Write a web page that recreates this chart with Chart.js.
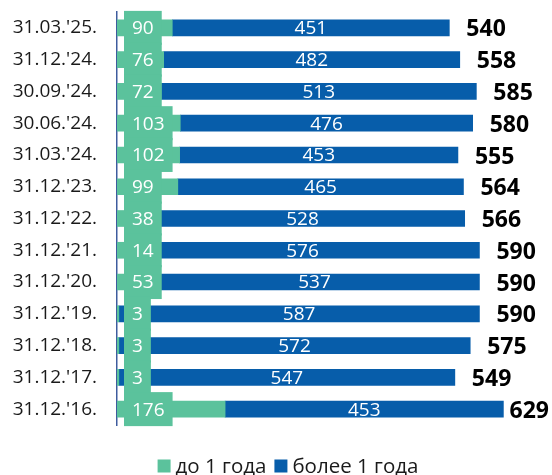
<!DOCTYPE html>
<html>
<head>
<meta charset="utf-8">
<script src="https://cdn.jsdelivr.net/npm/chart.js@4.4.0/dist/chart.umd.min.js"></script>
<style>
  html, body { margin: 0; padding: 0; background: #fff; }
  #wrap { width: 552px; height: 475px; }
</style>
</head>
<body>
<div id="wrap"><canvas id="myChart"></canvas></div>
<script>
// data, top row first
const dates = ["31.03.'25.", "31.12.'24.", "30.09.'24.", "30.06.'24.", "31.03.'24.", "31.12.'23.",
  "31.12.'22.", "31.12.'21.", "31.12.'20.", "31.12.'19.", "31.12.'18.", "31.12.'17.", "31.12.'16."];
const upToYear = [90, 76, 72, 103, 102, 99, 38, 14, 53, 3, 3, 3, 176];
const overYear = [451, 482, 513, 476, 453, 465, 528, 576, 537, 587, 572, 547, 453];
const totals = [540, 558, 585, 580, 555, 564, 566, 590, 590, 590, 575, 549, 629];
const seriesNames = ["до 1 года", "более 1 года"];

const GREEN = "#5BC29C";
const BLUE = "#075DAA";
const FONT = "'Open Sans', 'Liberation Sans', sans-serif";

// value labels: green boxed labels at the base, white centred labels, bold totals
const barLabels = {
  id: "barLabels",
  afterDatasetsDraw(chart) {
    const ctx = chart.ctx;
    const green = chart.getDatasetMeta(0).data;
    const blue = chart.getDatasetMeta(1).data;
    ctx.save();
    ctx.textBaseline = "middle";

    ctx.font = "19px " + FONT;
    ctx.textAlign = "center";
    ctx.fillStyle = "#fff";
    blue.forEach((bar, i) => {
      const p = bar.getProps(["x", "y", "base"], true);
      ctx.fillText(String(overYear[i]), (p.x + p.base) / 2, p.y + 1);
    });

    ctx.textAlign = "left";
    green.forEach((bar, i) => {
      const p = bar.getProps(["x", "y", "base"], true);
      const txt = String(upToYear[i]);
      const w = ctx.measureText(txt).width + 16;
      const x0 = p.base + 7;
      ctx.fillStyle = GREEN;
      ctx.fillRect(x0, p.y - 17, w, 34);
      ctx.fillStyle = "#fff";
      ctx.fillText(txt, x0 + 8, p.y + 1);
    });

    ctx.font = "bold 23px " + FONT;
    ctx.fillStyle = "#000";
    blue.forEach((bar, i) => {
      const p = bar.getProps(["x", "y"], true);
      const txt = String(totals[i]);
      const w = ctx.measureText(txt).width;
      const x = Math.min(p.x + 17, chart.width - 3 - w);
      ctx.fillText(txt, x, p.y + 2);
    });
    ctx.restore();
  },
  afterDraw(chart) {
    // legend at the bottom
    const ctx = chart.ctx;
    ctx.save();
    ctx.font = "20.5px " + FONT;
    ctx.textBaseline = "middle";
    ctx.textAlign = "left";
    const items = chart.data.datasets.map(ds => ({ label: ds.label, color: ds.backgroundColor }));
    const box = 13, gapText = 5, gapItem = 8;
    let total = 0;
    items.forEach((it, i) => {
      it.w = ctx.measureText(it.label).width;
      total += box + gapText + it.w + (i ? gapItem : 0);
    });
    let x = 288 - total / 2;
    const y = 466;
    items.forEach(it => {
      ctx.fillStyle = it.color;
      ctx.fillRect(x, y - box / 2, box, box);
      ctx.fillStyle = "#1a1a1a";
      ctx.fillText(it.label, x + box + gapText, y + 1);
      x += box + gapText + it.w + gapItem;
    });
    ctx.restore();
  }
};

const ctx = document.getElementById("myChart");
new Chart(ctx, {
  type: "bar",
  data: {
    labels: dates,
    datasets: [
      { label: seriesNames[0], data: upToYear, backgroundColor: GREEN, barThickness: 16 },
      { label: seriesNames[1], data: overYear, backgroundColor: BLUE, barThickness: 16 },
    ],
  },
  options: {
    indexAxis: "y",
    responsive: true,
    maintainAspectRatio: false,
    animation: false,
    layout: { padding: { top: 12, bottom: 50, left: 0, right: 5 } },
    scales: {
      x: { stacked: true, display: false, min: 0, max: 700 },
      y: {
        stacked: true,
        grid: { display: false, drawTicks: false },
        border: { display: true, color: "#3E5C9E", width: 1.5 },
        ticks: { color: "#1a1a1a", padding: 20, font: { family: FONT, size: 19 } },
        afterFit: (scale) => {
          scale.width = 117;
          scale.paddingTop = 0;
          scale.paddingBottom = 0;
        },
      },
    },
    plugins: {
      legend: { display: false },
      tooltip: { enabled: false },
    },
  },
  plugins: [barLabels],
});
</script>
</body>
</html>
